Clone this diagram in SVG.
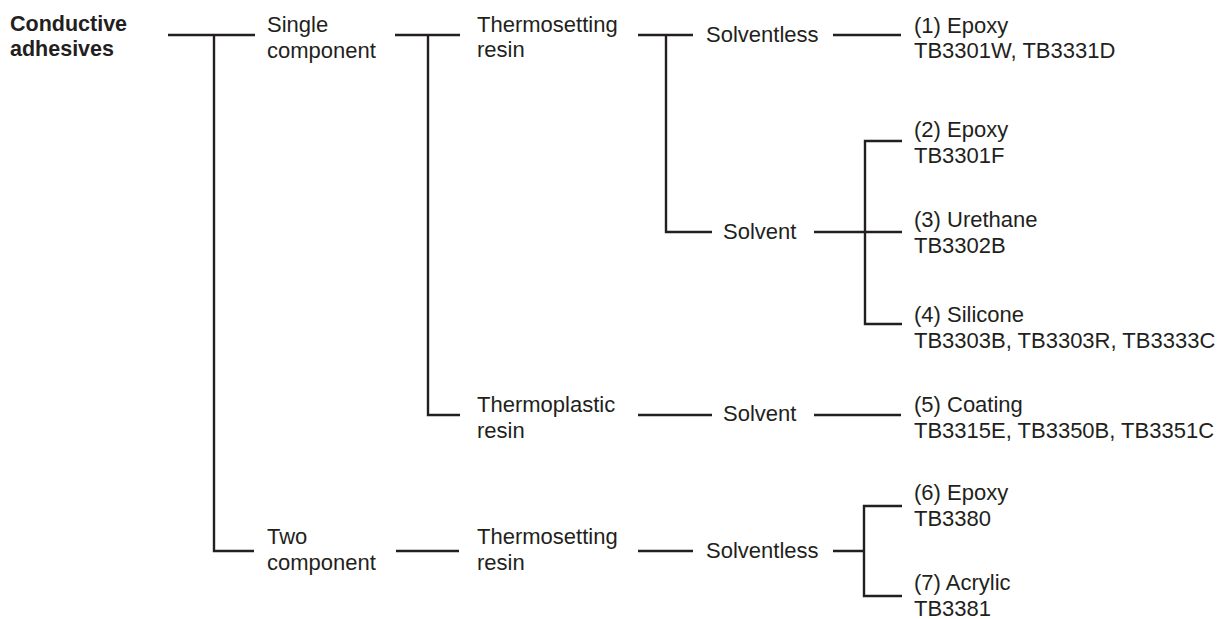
<svg xmlns="http://www.w3.org/2000/svg" width="1232" height="619" viewBox="0 0 1232 619">
<style>
.t{font-family:"Liberation Sans",Arial,Helvetica,sans-serif;font-size:22px;fill:#231f20}
.b{font-weight:bold;font-size:21.5px}
.c{fill:none;stroke:#231f20;stroke-width:2.4;stroke-linecap:butt;stroke-linejoin:miter}
</style>
<rect width="1232" height="619" fill="#ffffff"/>
<g id="connectors" class="c">
<path d="M168,35 H255 M214,35 V551 H254"/>
<path d="M395,35 H460 M428,35 V415 H460"/>
<path d="M396,551 H459"/>
<path d="M638,35 H693 M666,35 V232 H712"/>
<path d="M638,415 H712"/>
<path d="M638,551 H693"/>
<path d="M833,35 H901"/>
<path d="M814,232 H902 M902,141 H865 V324 H902"/>
<path d="M814,415 H901"/>
<path d="M833,551 H864 M902,506 H864 V596 H902"/>
</g>
<g id="root"><text class="t b" x="10" y="31">Conductive</text><text class="t b" x="10" y="56">adhesives</text></g>
<g id="single"><text class="t" x="267" y="32">Single</text><text class="t" x="267" y="58">component</text></g>
<g id="two"><text class="t" x="267" y="544">Two</text><text class="t" x="267" y="570">component</text></g>
<g id="thermoset1"><text class="t" x="477" y="32">Thermosetting</text><text class="t" x="477" y="57">resin</text></g>
<g id="thermoplastic"><text class="t" x="477" y="412">Thermoplastic</text><text class="t" x="477" y="438">resin</text></g>
<g id="thermoset2"><text class="t" x="477" y="544">Thermosetting</text><text class="t" x="477" y="570">resin</text></g>
<g id="solventless1"><text class="t" x="706" y="42">Solventless</text></g>
<g id="solvent1"><text class="t" x="723" y="239">Solvent</text></g>
<g id="solvent2"><text class="t" x="723" y="421">Solvent</text></g>
<g id="solventless2"><text class="t" x="706" y="558">Solventless</text></g>
<g id="leaf1"><text class="t" x="914" y="33">(1) Epoxy</text><text class="t" x="914" y="58">TB3301W, TB3331D</text></g>
<g id="leaf2"><text class="t" x="914" y="137">(2) Epoxy</text><text class="t" x="914" y="163">TB3301F</text></g>
<g id="leaf3"><text class="t" x="914" y="227">(3) Urethane</text><text class="t" x="914" y="253">TB3302B</text></g>
<g id="leaf4"><text class="t" x="914" y="322">(4) Silicone</text><text class="t" x="914" y="348">TB3303B, TB3303R, TB3333C</text></g>
<g id="leaf5"><text class="t" x="914" y="412">(5) Coating</text><text class="t" x="914" y="438">TB3315E, TB3350B, TB3351C</text></g>
<g id="leaf6"><text class="t" x="914" y="500">(6) Epoxy</text><text class="t" x="914" y="526">TB3380</text></g>
<g id="leaf7"><text class="t" x="914" y="590">(7) Acrylic</text><text class="t" x="914" y="616">TB3381</text></g>
</svg>
